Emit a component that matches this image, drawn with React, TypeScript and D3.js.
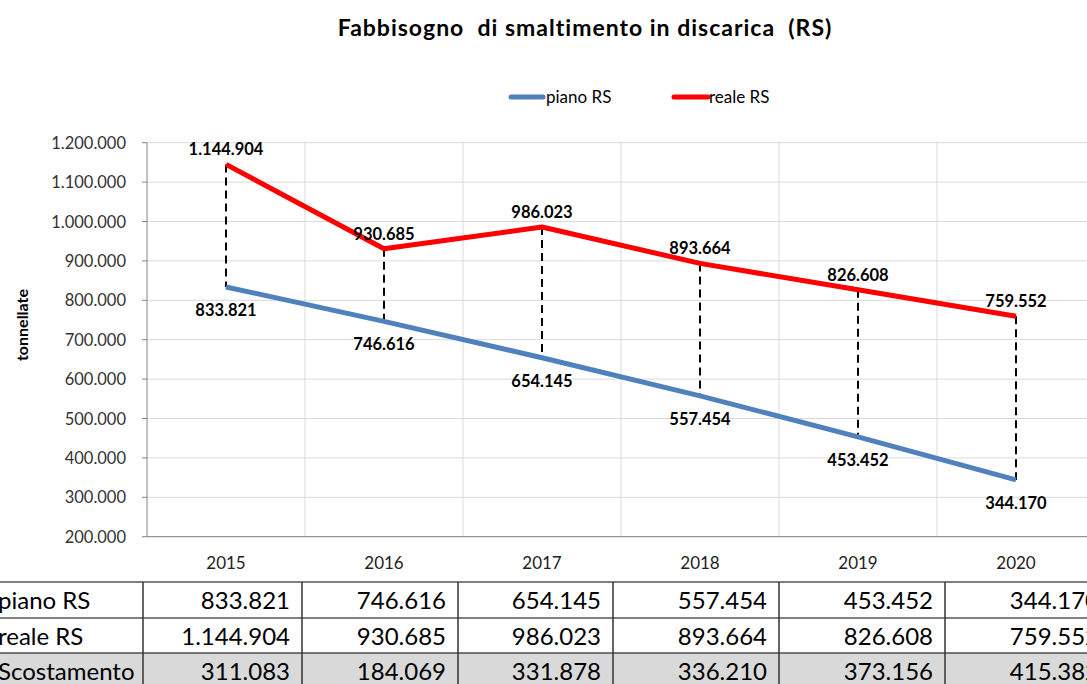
import React from "react";
import * as d3 from "d3";

const years = ["2015", "2016", "2017", "2018", "2019", "2020"];
const piano = [833821, 746616, 654145, 557454, 453452, 344170];
const reale = [1144904, 930685, 986023, 893664, 826608, 759552];
const scostamento = [311083, 184069, 331878, 336210, 373156, 415382];
const yTicks = [200000, 300000, 400000, 500000, 600000, 700000, 800000, 900000, 1000000, 1100000, 1200000];
const rowLabels = ["piano RS", "reale RS", "Scostamento"];

const W = 1087;
const H = 684;
const FONT = "Lato, 'Open Sans', sans-serif";
const BLUE = "#4F81BD";
const RED = "#FF0000";

const fmt = (v: number) => {
  const s = Math.round(v).toString();
  return s.replace(/\B(?=(\d{3})+(?!\d))/g, ".");
};

export default function App() {
  const x = d3.scaleBand<string>().domain(years).range([147, 1095]).padding(0);
  const y = d3.scaleLinear().domain([200000, 1200000]).range([536.7, 142.7]);
  const cx = (yr: string) => (x(yr) as number) + x.bandwidth() / 2;

  const line = d3
    .line<number>()
    .x((_, i) => cx(years[i]))
    .y((d) => y(d));

  const colEdges = [143, 302, 458, 613, 779, 945, 1111];
  const rowTops = [582, 618, 653, 689];
  const rows = [piano, reale, scostamento];

  return (
    <svg width={W} height={H} style={{ display: "block", position: "absolute", left: 0, top: 0 }}>
      <rect x={0} y={0} width={W} height={H} fill="#fff" />
      <text
        x={585}
        y={36}
        textAnchor="middle"
        fontFamily={FONT}
        fontWeight="bold"
        fontSize={23}
        letterSpacing={1}
        fill="#000"
        style={{ whiteSpace: "pre" }}
      >
        {"Fabbisogno  di smaltimento in discarica  (RS)"}
      </text>

      {/* legend */}
      <line x1={511} x2={543} y1={97} y2={97} stroke={BLUE} strokeWidth={5} strokeLinecap="round" />
      <text x={546} y={103} fontFamily={FONT} fontSize={17} fill="#000">piano RS</text>
      <line x1={674} x2={708} y1={97} y2={97} stroke={RED} strokeWidth={5} strokeLinecap="round" />
      <text x={709} y={103} fontFamily={FONT} fontSize={17} fill="#000">reale RS</text>

      {/* gridlines */}
      {yTicks.map((t) => (
        <line key={"g" + t} x1={147} x2={1095} y1={y(t)} y2={y(t)} stroke="#d9d9d9" strokeWidth={1} />
      ))}
      {years.map((yr) => (
        <line
          key={"v" + yr}
          x1={(x(yr) as number) + x.bandwidth()}
          x2={(x(yr) as number) + x.bandwidth()}
          y1={142.7}
          y2={536.7}
          stroke="#d9d9d9"
          strokeWidth={1}
        />
      ))}
      {/* axes */}
      <line x1={147} x2={147} y1={142.7} y2={536.7} stroke="#868686" strokeWidth={1} />
      <line x1={147} x2={1095} y1={536.7} y2={536.7} stroke="#868686" strokeWidth={1} />
      {yTicks.map((t) => (
        <g key={"t" + t}>
          <line x1={142} x2={147} y1={y(t)} y2={y(t)} stroke="#868686" />
          <text x={126} y={y(t) + 6} textAnchor="end" fontFamily={FONT} fontSize={16.5} fill="#333">
            {fmt(t)}
          </text>
        </g>
      ))}
      {years.map((yr) => (
        <text key={"x" + yr} x={cx(yr)} y={569} textAnchor="middle" fontFamily={FONT} fontSize={17} fill="#222">
          {yr}
        </text>
      ))}
      <text
        transform="translate(28,325) rotate(-90)"
        textAnchor="middle"
        fontFamily={FONT}
        fontWeight="bold"
        fontSize={16}
        fill="#000"
      >
        tonnellate
      </text>

      {/* drop lines */}
      {years.map((yr, i) => (
        <line
          key={"d" + yr}
          x1={cx(yr)}
          x2={cx(yr)}
          y1={y(reale[i])}
          y2={y(piano[i])}
          stroke="#000"
          strokeWidth={2}
          strokeDasharray="8,5"
        />
      ))}

      <path d={line(piano) as string} fill="none" stroke={BLUE} strokeWidth={5} strokeLinejoin="round" />
      <path d={line(reale) as string} fill="none" stroke={RED} strokeWidth={5} strokeLinejoin="round" />

      {years.map((yr, i) => (
        <g key={"l" + yr}>
          <text x={cx(yr)} y={y(reale[i]) - 9} textAnchor="middle" fontFamily={FONT} fontWeight="bold" fontSize={16.5} fill="#000">
            {fmt(reale[i])}
          </text>
          <text x={cx(yr)} y={y(piano[i]) + 29} textAnchor="middle" fontFamily={FONT} fontWeight="bold" fontSize={16.5} fill="#000">
            {fmt(piano[i])}
          </text>
        </g>
      ))}

      {/* table */}
      <rect x={0} y={rowTops[2]} width={W} height={rowTops[3] - rowTops[2]} fill="#d9d9d9" />
      {rowTops.map((t) => (
        <line key={"rt" + t} x1={0} x2={W} y1={t} y2={t} stroke="#000" strokeWidth={1} />
      ))}
      {colEdges.map((c) => (
        <line key={"ce" + c} x1={c} x2={c} y1={rowTops[0]} y2={H} stroke="#333" strokeWidth={1.5} />
      ))}
      {rows.map((r, ri) => (
        <g key={"row" + ri}>
          <text x={-2} y={rowTops[ri] + 27} fontFamily={FONT} fontSize={24} fill="#000">
            {rowLabels[ri]}
          </text>
          {r.map((v, ci) => (
            <text
              key={ci}
              x={colEdges[ci + 1] - 12}
              y={rowTops[ri] + 27}
              textAnchor="end"
              fontFamily={FONT}
              fontSize={24}
              fill="#000"
            >
              {fmt(v)}
            </text>
          ))}
        </g>
      ))}
    </svg>
  );
}
